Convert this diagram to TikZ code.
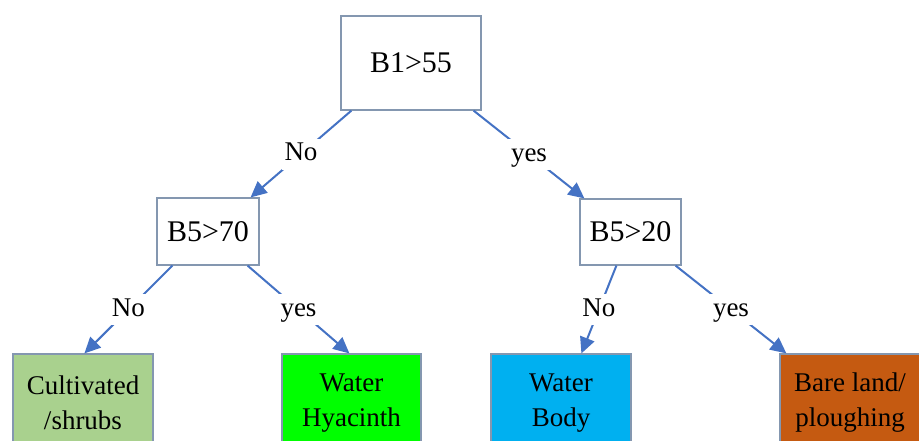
\documentclass[tikz,border=0pt]{standalone}
\usepackage{fontspec}
\setmainfont{Liberation Serif}
\usetikzlibrary{arrows.meta}
\definecolor{boxline}{HTML}{8497B0}
\definecolor{arrowblue}{HTML}{4472C4}
\definecolor{cultgreen}{HTML}{A9D18E}
\definecolor{hyagreen}{HTML}{00FF00}
\definecolor{waterblue}{HTML}{00B0F0}
\definecolor{bareorange}{HTML}{C55A11}
\tikzset{
  testbox/.style={draw=boxline, line width=1.2pt, fill=white, rectangle, inner sep=0pt, font=\fontsize{30}{36}\selectfont},
  leafbox/.style={draw=boxline, line width=1.2pt, rectangle, inner sep=0pt, minimum width=140pt, minimum height=98pt, align=center, font=\fontsize{27}{35}\selectfont},
  arr/.style={draw=arrowblue, line width=2pt, -{Triangle[length=16pt,width=15pt]}},
  lbl/.style={fill=white, inner sep=3pt, text height=19pt, text depth=6pt, font=\fontsize{27}{32}\selectfont}
}
\begin{document}
\begin{tikzpicture}[x=1pt,y=-1pt]
\clip (0,0) rectangle (919,440);
\fill[white] (0,0) rectangle (919,440);
\node[testbox, minimum width=140pt, minimum height=94pt] (root) at (411,63) {B1>55};
\node[testbox, minimum width=102pt, minimum height=67pt] (l) at (208,231.5) {B5>70};
\node[testbox, minimum width=101pt, minimum height=66pt] (r) at (630.5,232) {B5>20};
\node[leafbox, fill=cultgreen] (cult) at (83,403) {Cultivated\\/shrubs};
\node[leafbox, fill=hyagreen, minimum width=139pt] (hya) at (351.5,403) {Water\\Hyacinth};
\node[leafbox, fill=waterblue] (wb) at (561,403) {Water\\Body};
\node[leafbox, fill=bareorange] (bare) at (850,403) {Bare land/\\ploughing};
\draw[arr] ([xshift=11pt]root.south west) -- node[lbl]{No} ([xshift=-9pt]l.north east);
\draw[arr] ([xshift=-8pt]root.south east) -- node[lbl]{yes} ([xshift=5pt]r.north west);
\draw[arr] ([xshift=16pt]l.south west) -- node[lbl]{No} ([xshift=72pt]cult.north west);
\draw[arr] ([xshift=-12pt]l.south east) -- node[lbl]{yes} ([xshift=68pt]hya.north west);
\draw[arr] ([xshift=37pt]r.south west) -- node[lbl]{No} ([xshift=91pt]wb.north west);
\draw[arr] ([xshift=-6pt]r.south east) -- node[lbl]{yes} ([xshift=7pt]bare.north west);
\end{tikzpicture}
\end{document}
